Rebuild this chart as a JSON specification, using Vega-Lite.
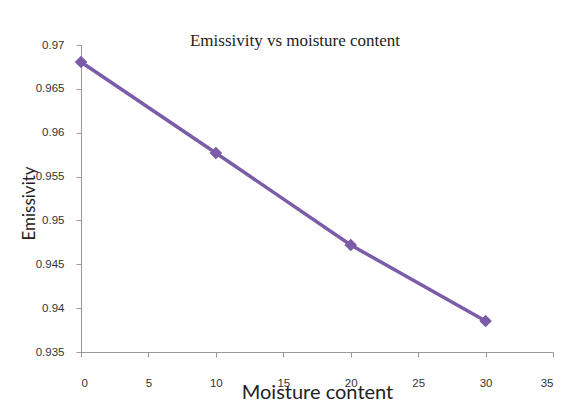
{
  "$schema": "https://vega.github.io/schema/vega-lite/v6.json",
  "autosize": {"type": "none"},
  "width": 472,
  "height": 307,
  "padding": {"left": 81, "top": 45, "right": 10, "bottom": 51},
  "background": "white",
  "title": {
    "text": "Emissivity vs moisture content",
    "font": "Liberation Serif",
    "fontSize": 17,
    "fontWeight": "normal",
    "color": "#222222",
    "anchor": "middle",
    "frame": "group",
    "baseline": "middle",
    "offset": -19,
    "dx": -22
  },
  "config": {"view": {"stroke": null}},
  "data": {
    "values": [
      {"moisture": 0, "emissivity": 0.96806},
      {"moisture": 10, "emissivity": 0.95769},
      {"moisture": 20, "emissivity": 0.9472},
      {"moisture": 30, "emissivity": 0.93853}
    ]
  },
  "encoding": {
    "x": {
      "field": "moisture",
      "type": "quantitative",
      "scale": {"domain": [0, 35], "nice": false, "zero": false},
      "axis": {
        "values": [0, 5, 10, 15, 20, 25, 30, 35],
        "grid": false,
        "domainColor": "#999999",
        "tickColor": "#999999",
        "tickSize": 5,
        "labelPadding": 20,
        "labelFont": "Liberation Sans",
        "labelFontSize": 11.5,
        "labelColor": "#333333",
        "title": "Moisture content",
        "titleFont": "Lato",
        "titleFontSize": 20,
        "titleFontWeight": "normal",
        "titleColor": "#222222",
        "titleBaseline": "alphabetic",
        "titleY": 46
      }
    },
    "y": {
      "field": "emissivity",
      "type": "quantitative",
      "scale": {"domain": [0.935, 0.97], "nice": false, "zero": false},
      "axis": {
        "values": [0.935, 0.94, 0.945, 0.95, 0.955, 0.96, 0.965, 0.97],
        "format": ".3~f",
        "grid": false,
        "domainColor": "#999999",
        "tickColor": "#999999",
        "tickSize": 5,
        "labelPadding": 12,
        "labelFont": "Liberation Sans",
        "labelFontSize": 11.5,
        "labelColor": "#333333",
        "title": "Emissivity",
        "titleFont": "Lato",
        "titleFontSize": 17,
        "titleFontWeight": "normal",
        "titleColor": "#222222",
        "titleAngle": -90,
        "titleAlign": "center",
        "titleBaseline": "middle",
        "titleX": -52,
        "titleY": 158
      }
    }
  },
  "layer": [
    {"mark": {"type": "line", "color": "#7B5CA8", "strokeWidth": 3.5}},
    {"mark": {"type": "point", "shape": "diamond", "filled": true, "opacity": 1, "color": "#7B5CA8", "size": 160}}
  ]
}
